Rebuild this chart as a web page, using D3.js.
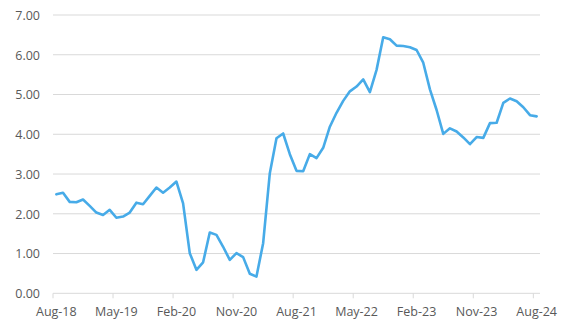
<!DOCTYPE html>
<html>
<head>
<meta charset="utf-8">
<script src="https://cdn.jsdelivr.net/npm/d3@7"></script>
<style>
  body { margin: 0; background: #fff; }
  svg text { font-family: "Open Sans", sans-serif; font-size: 12.5px; fill: #595959; }
</style>
</head>
<body>
<svg id="chart" width="565" height="326"></svg>
<script>
// mois de Aug-18 a Aug-24
const moisNoms = ["Jan","Feb","Mar","Apr","May","Jun","Jul","Aug","Sep","Oct","Nov","Dec"];
const mois = [];
for (let k = 0; k < 73; k++) {
  const m = (7 + k) % 12;
  const a = 18 + Math.floor((7 + k) / 12);
  mois.push(moisNoms[m] + "-" + a);
}

const valeurs = [
  2.49, 2.53, 2.30, 2.29, 2.36, 2.20, 2.03, 1.97, 2.10, 1.90,
  1.93, 2.03, 2.28, 2.24, 2.45, 2.66, 2.53, 2.66, 2.81, 2.26,
  1.01, 0.59, 0.78, 1.53, 1.47, 1.17, 0.84, 1.01, 0.91, 0.49,
  0.42, 1.26, 3.02, 3.90, 4.02, 3.50, 3.08, 3.07, 3.50, 3.40,
  3.66, 4.19, 4.54, 4.84, 5.08, 5.20, 5.38, 5.06, 5.62, 6.44,
  6.39, 6.23, 6.22, 6.19, 6.12, 5.80, 5.13, 4.61, 4.01, 4.15,
  4.07, 3.92, 3.75, 3.93, 3.91, 4.28, 4.29, 4.79, 4.90, 4.83,
  4.68, 4.48, 4.45
];

const yTicks = [0, 1, 2, 3, 4, 5, 6, 7];

const svg = d3.select("#chart");
const gauche = 53, droite = 540, haut = 15, bas = 293.3;

const x = d3.scaleBand().domain(mois).range([gauche, droite]).padding(0);
const y = d3.scaleLinear().domain([0, 7]).range([bas, haut]);

// grille
svg.append("g")
  .selectAll("line")
  .data(yTicks.filter(d => d > 0))
  .join("line")
  .attr("x1", gauche).attr("x2", droite)
  .attr("y1", d => y(d)).attr("y2", d => y(d))
  .attr("stroke", "#d9d9d9").attr("stroke-width", 1);

// axe Y
const axeY = svg.append("g")
  .attr("transform", "translate(" + gauche + ",0)")
  .call(d3.axisLeft(y).tickValues(yTicks).tickFormat(d3.format(".2f")).tickSize(0).tickPadding(13));
axeY.select(".domain").remove();
axeY.selectAll("text").attr("dy", "0.35em");

// axe X
const labelsX = mois.filter((d, i) => i % 9 === 0);
const axeX = svg.append("g").attr("transform", "translate(0," + bas + ")");
axeX.append("line")
  .attr("x1", gauche).attr("x2", droite)
  .attr("y1", 0).attr("y2", 0)
  .attr("stroke", "#d9d9d9").attr("stroke-width", 1);
axeX.selectAll("line.tick")
  .data(labelsX)
  .join("line")
  .attr("class", "tick")
  .attr("x1", d => x(d)).attr("x2", d => x(d))
  .attr("y1", 0).attr("y2", 5)
  .attr("stroke", "#d9d9d9");
axeX.selectAll("text")
  .data(labelsX)
  .join("text")
  .attr("x", d => x(d) + x.bandwidth() / 2)
  .attr("y", 18)
  .attr("dy", "0.35em")
  .attr("text-anchor", "middle")
  .text(d => d);

// courbe
const ligne = d3.line()
  .x((d, i) => x(mois[i]) + x.bandwidth() / 2)
  .y(d => y(d));

svg.append("path")
  .datum(valeurs)
  .attr("fill", "none")
  .attr("stroke", "#47abe8")
  .attr("stroke-width", 2.6)
  .attr("stroke-linejoin", "round")
  .attr("stroke-linecap", "round")
  .attr("d", ligne);
</script>
</body>
</html>
